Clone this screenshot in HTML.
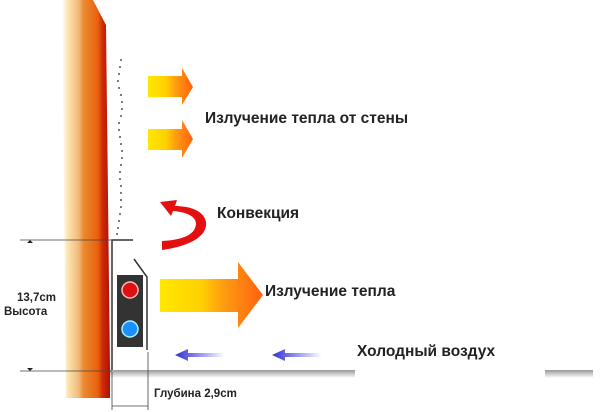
<!DOCTYPE html>
<html><head><meta charset="utf-8"><style>
body{margin:0;background:#fff}
svg{display:block}
text{font-family:"Liberation Sans",sans-serif;font-weight:bold;fill:#222}
</style></head><body>
<svg width="600" height="412" viewBox="0 0 600 412" xmlns="http://www.w3.org/2000/svg">
<defs>
<linearGradient id="wall" x1="0" x2="1" y1="0" y2="0">
<stop offset="0" stop-color="#fff"/><stop offset="0.12" stop-color="#fbe6b0"/>
<stop offset="0.35" stop-color="#f3b878"/><stop offset="0.45" stop-color="#ec8a30"/>
<stop offset="0.75" stop-color="#e8600e"/><stop offset="0.85" stop-color="#cc2a08"/><stop offset="1" stop-color="#b01008"/>
</linearGradient>
<linearGradient id="arr" x1="0" x2="1" y1="0" y2="0">
<stop offset="0" stop-color="#ffe800"/><stop offset="0.4" stop-color="#ffd000"/>
<stop offset="0.6" stop-color="#ffa010"/><stop offset="1" stop-color="#ff6010"/>
</linearGradient>
<linearGradient id="blue" x1="0" x2="1"><stop offset="0" stop-color="#3030d0"/><stop offset="1" stop-color="#fff"/></linearGradient>
<linearGradient id="floor" x1="0" x2="0" y1="0" y2="1"><stop offset="0" stop-color="#999"/><stop offset="1" stop-color="#fff"/></linearGradient>
</defs>
<path d="M62 0 L93 0 L106 25 L110 370 L110 398 L66 398 Z" fill="url(#wall)"/>
<g fill="#555">
<circle cx="121" cy="60" r="1"/><circle cx="120" cy="67" r="1"/><circle cx="119" cy="74" r="1"/><circle cx="118" cy="81" r="1"/><circle cx="119" cy="88" r="1"/><circle cx="121" cy="95" r="1"/><circle cx="122" cy="102" r="1"/><circle cx="122" cy="109" r="1"/><circle cx="121" cy="116" r="1"/><circle cx="119" cy="123" r="1"/><circle cx="119" cy="130" r="1"/><circle cx="120" cy="137" r="1"/><circle cx="121" cy="144" r="1"/><circle cx="122" cy="151" r="1"/><circle cx="122" cy="158" r="1"/><circle cx="121" cy="165" r="1"/><circle cx="120" cy="172" r="1"/><circle cx="120" cy="179" r="1"/><circle cx="121" cy="186" r="1"/><circle cx="121" cy="193" r="1"/><circle cx="121" cy="200" r="1"/><circle cx="121" cy="207" r="1"/><circle cx="120" cy="214" r="1"/><circle cx="119" cy="221" r="1"/><circle cx="118" cy="228" r="1"/><circle cx="117" cy="234" r="1"/>
</g>
<rect x="110" y="370" width="245" height="8" fill="url(#floor)"/>
<rect x="545" y="370" width="48" height="8" fill="url(#floor)"/>
<path d="M112 370 L112 240 L133 240" fill="none" stroke="#333" stroke-width="1.5"/>
<path d="M134 259 L147 277 L147 350" fill="none" stroke="#333" stroke-width="1.5"/>
<rect x="117" y="275" width="26" height="72" fill="#333"/>
<circle cx="130" cy="290" r="8" fill="#e01010" stroke="#fbb" stroke-width="1.5"/>
<circle cx="130" cy="329" r="8" fill="#1a90ff" stroke="#aef" stroke-width="1.5"/>
<g stroke="#444" stroke-width="0.8" fill="none">
<line x1="20" y1="240" x2="112" y2="240"/><line x1="20" y1="371" x2="112" y2="371"/>
<line x1="112" y1="372" x2="112" y2="410"/><line x1="148" y1="352" x2="148" y2="410"/>
<line x1="112" y1="406" x2="148" y2="406"/>
</g>
<path d="M27 243 L33 243 L30 240Z M27 368 L33 368 L30 371Z" fill="#222"/>
<path d="M148 76 L182 76 L182 68 L193 87 L182 105 L182 97 L148 97Z" fill="url(#arr)"/>
<path d="M148 129 L182 129 L182 120 L193 139 L182 158 L182 150 L148 150Z" fill="url(#arr)"/>
<path d="M160 279 L238 279 L238 262 L263 295 L238 328 L238 312 L160 312Z" fill="url(#arr)"/>
<path d="M162 250 C185 247 208 238 206 222 C204 210 188 206 175 206 L177 200 L160 202 L171 216 L173 211 C186 212 196 216 196 224 C195 236 180 240 162 241Z" fill="#e41010"/>
<path d="M175 355 L188 349 L188 353 L225 353 L225 357 L188 357 L188 361Z" fill="url(#blue)"/>
<path d="M272 355 L285 349 L285 353 L322 353 L322 357 L285 357 L285 361Z" fill="url(#blue)"/>
<text x="205" y="123" font-size="15.5">Излучение тепла от стены</text>
<text x="217" y="218" font-size="15.5">Конвекция</text>
<text x="265" y="296" font-size="15.5">Излучение тепла</text>
<text x="357" y="356" font-size="15.5">Холодный воздух</text>
<text x="17" y="301" font-size="11.5">13,7cm</text>
<text x="4" y="315" font-size="11.5">Высота</text>
<text x="154" y="397" font-size="11.5">Глубина 2,9cm</text>
</svg>
</body></html>
